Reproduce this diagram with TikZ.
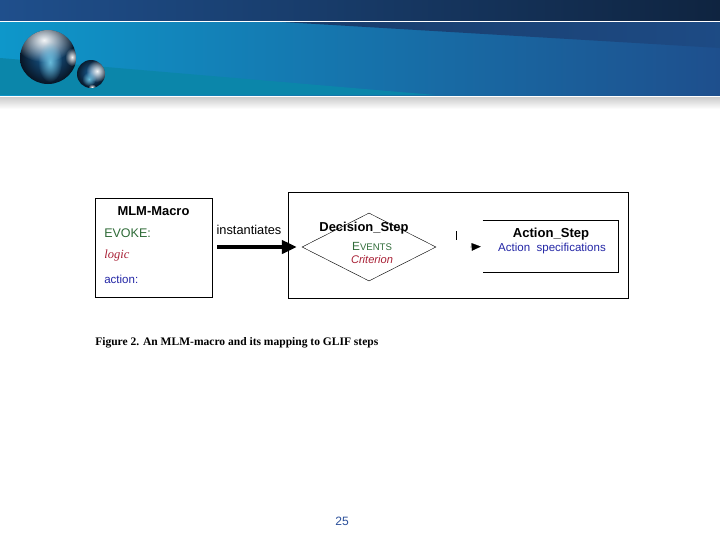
\documentclass[tikz,border=0pt]{standalone}
\usepackage{fontspec}
\setmainfont{Liberation Sans}
\newfontfamily\capfont{Liberation Serif}
\usetikzlibrary{arrows.meta,positioning,calc,shapes.geometric,fadings}
\definecolor{bandA}{HTML}{1F4F8C}
\definecolor{bandB}{HTML}{0F2440}
\definecolor{skyA}{HTML}{0E97CA}
\definecolor{skyB}{HTML}{1E4F8D}
\definecolor{tealA}{HTML}{0B86AA}
\definecolor{evokegreen}{HTML}{2F6B38}
\definecolor{logicred}{HTML}{A82035}
\definecolor{actionblue}{HTML}{2225A5}
\definecolor{pageblue}{HTML}{2A4F9A}
\tikzfading[name=softglow,inner color=transparent!5,outer color=transparent!100]
\tikzset{
  framebox/.style={draw,line width=0.6pt,inner sep=0pt,minimum width=#1},
  steptitle/.style={inner sep=0pt,font=\bfseries\fontsize{9.2}{10}\selectfont},
  bodytext/.style={inner sep=0pt,font=\fontsize{8.2}{9}\selectfont,anchor=west},
  glow/.style={fill=#1,path fading=softglow},
}
\begin{document}
\begin{tikzpicture}[x=0.025cm,y=-0.025cm]
\useasboundingbox (0,0) rectangle (720,540);
% header bands
\shade[left color=bandA,right color=bandB] (0,0) rectangle (720,20);
\shade[left color=skyA,middle color=skyA!75!skyB,right color=skyB] (0,22) rectangle (720,95);
\shade[left color=bandA!55!bandB,right color=bandA!90!bandB] (282,22) -- (720,48) -- (720,22) -- cycle;
\fill[tealA] (0,58) -- (435,95) -- (0,95) -- cycle;
\shade[top color=black!20,bottom color=white] (0,97) rectangle (720,109);
% the two balls
\begin{scope}
\clip (48,58) circle (28);
\shade[inner color=skyB!70!skyA,outer color=black!75!skyB] (48,55) circle (29);
\fill[glow=white] (44,40) ellipse (30 and 22);
\fill[glow=skyA!60!white] (50,62) ellipse (12 and 20);
\fill[glow=white] (72,57) ellipse (7 and 9);
\end{scope}
\begin{scope}
\clip (91,74) circle (14);
\shade[inner color=skyB!70!skyA,outer color=black!75!skyB] (91,73) circle (15);
\fill[glow=white] (97,71) ellipse (11 and 11);
\fill[glow=skyA!60!white] (89,79) ellipse (7 and 7);
\fill[glow=white] (92,87) ellipse (4 and 3);
\end{scope}
% left box
\node[framebox=117*0.025cm,minimum height=99*0.025cm] (macrobox) at (153.5,247.5) {};
\node[steptitle] (macrotitle) at (153.5,211) {MLM-Macro};
\node[bodytext,text=evokegreen,font=\fontsize{8.9}{9}\selectfont] (evoke) at (104,233) {EVOKE:};
\node[bodytext,text=logicred,font=\capfont\itshape\fontsize{8.9}{10}\selectfont] (logic) at (104,255) {logic};
\node[bodytext,text=actionblue] (action) at (104,279) {action:};
% right box
\node[framebox=340*0.025cm,minimum height=106*0.025cm] (stepbox) at (458,245) {};
\node[diamond,draw,line width=0.3pt,inner sep=0pt,minimum width=134*0.025cm,minimum height=68*0.025cm] (decision) at (369,247) {};
\node[steptitle] (decisiontitle) at (364,228) {Decision\_Step};
\node[inner sep=0pt,text=evokegreen,font=\fontsize{8.4}{8}\selectfont] (events) at (372,246) {E\fontsize{6.8}{8}\selectfont VENTS};
\node[inner sep=0pt,text=logicred,font=\itshape\fontsize{7.9}{8}\selectfont] (criterion) at (372,260) {Criterion};
\node[inner sep=0pt,minimum width=135*0.025cm,minimum height=51*0.025cm] (actionbox) at (550.5,246.5) {};
\draw[line width=0.5pt] (actionbox.north west) -- (actionbox.north east) -- (actionbox.south east) -- (actionbox.south west);
\node[steptitle,font=\bfseries\fontsize{9.3}{10}\selectfont] (actiontitle) at (551,234) {Action\_Step};
\node[inner sep=0pt,text=actionblue,font=\fontsize{8.2}{8}\selectfont] (actionspec) at (552,249) {Action\ \ specifications};
% connectors
\node[inner sep=0pt,font=\fontsize{9.1}{10}\selectfont] (inst) at (249,230) {instantiates};
\draw[-{Triangle[length=3.75mm,width=3.3mm]},line width=2.8pt,shorten <=1.25mm,shorten >=1.25mm] (macrobox.east |- decision) -- (decision.west);
\coordinate (ticktop) at (456,231);
\coordinate (tickend) at (456,240);
\draw[line width=0.6pt] (ticktop) -- (tickend);
\coordinate (headstart) at (470,247);
\draw[-{Triangle[length=2.25mm,width=1.9mm]},line width=0.1pt,shorten >=0.5mm] (headstart) -- (actionbox.west);
% caption and page number
\node[anchor=west,inner sep=0pt,font=\capfont\bfseries\fontsize{8.2}{10}\selectfont] (caption) at (95,343) {Figure 2. An MLM-macro and its mapping to GLIF steps};
\node[text=pageblue,font=\fontsize{8.6}{10}\selectfont] (pageno) at (342,521) {25};
\end{tikzpicture}
\end{document}
